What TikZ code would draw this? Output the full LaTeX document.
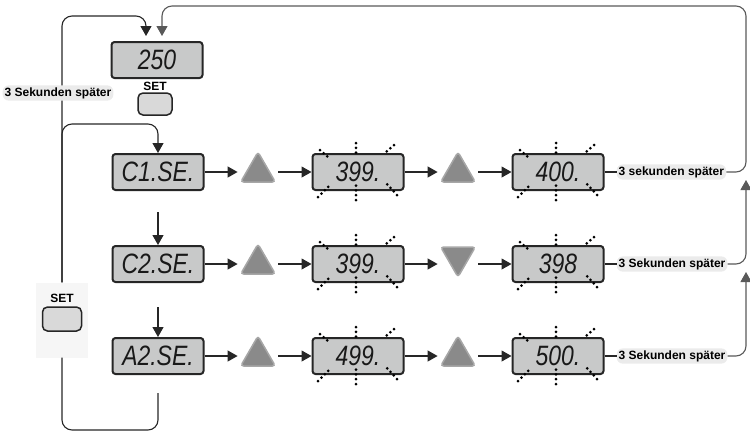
\documentclass[tikz,border=0pt]{standalone}
\usepackage{fontspec}
\setmainfont{Liberation Sans}
\newfontfamily\lcdfamily[FakeStretch=0.82]{Liberation Sans}
\usetikzlibrary{shapes.geometric,arrows.meta,positioning}

\definecolor{lcdgrey}{HTML}{C8C9C9}
\definecolor{keygrey}{HTML}{8A8A8A}
\definecolor{tagbg}{HTML}{EBEBEB}
\definecolor{padbg}{HTML}{F6F6F6}

\newcommand{\lcd}{\lcdfamily\itshape\fontsize{28}{28}\selectfont}
\newcommand{\tagfont}{\bfseries\fontsize{12}{14}\selectfont}

\tikzstyle{display}=[draw=black!85, fill=lcdgrey, line width=2pt, rounded corners=3pt, minimum width=91pt, minimum height=36pt, inner sep=0pt, font=\lcd, text=black!90]
\tikzstyle{key}=[regular polygon, regular polygon sides=3, fill=keygrey, draw=keygrey!75!white, line width=1.5pt, rounded corners=3pt, minimum size=40pt, inner sep=0pt]
\tikzstyle{button}=[draw=black!85, fill=black!15, line width=1.5pt, rounded corners=5pt, minimum width=36pt, minimum height=22pt]
\tikzstyle{tag}=[fill=tagbg, rounded corners=6pt, inner sep=2pt, font=\tagfont]
\tikzstyle{wire}=[draw=black!85, line width=1.1pt]
\tikzstyle{loopwire}=[draw=black!65, line width=1.1pt]
\tikzstyle{blinkdots}=[black, line width=3pt, line cap=round, dash pattern=on 0pt off 4.8pt]

% flashing marks round a display
\newcommand{\blink}[1]{%
  \draw[blinkdots] ([shift={(-38,-22)}]#1.center) -- ++(9,8);
  \draw[blinkdots] ([shift={(36,-27)}]#1.center) -- ++(-9,8);
  \draw[blinkdots] ([shift={(-40,25)}]#1.center) -- ++(12,-12);
  \draw[blinkdots] ([shift={(39,23)}]#1.center) -- ++(-12,-13);
  \draw[blinkdots] ([shift={(-2,-29)}]#1.center) -- ++(0,14);
  \draw[blinkdots] ([shift={(-2,28)}]#1.center) -- ++(0,-18);
}

\begin{document}
\begin{tikzpicture}[x=1pt, y=-1pt, node distance=100pt, auto, >={Triangle[length=10pt,width=11pt]}]
  \useasboundingbox (0,0) rectangle (750,432);

  % start display and its key
  \node (disp0) [display] at (157,60) {250};
  \node (btnA) [button, minimum width=34pt] at (155,104) {};
  \node (setA) [font=\tagfont, node distance=18pt, above of=btnA] {SET};

  % rows
  \node (r1d1) [display] at (158,172) {C1.SE.};
  \node (r1t1) [key, right of=r1d1] {};
  \node (r1d2) [display, right of=r1t1] {399.};
  \node (r1t2) [key, right of=r1d2] {};
  \node (r1d3) [display, right of=r1t2] {400.};
  \node (r1lbl) [tag, right=12pt of r1d3] {3 sekunden später};

  \node (r2d1) [display, node distance=92pt, below of=r1d1] {C2.SE.};
  \node (r2t1) [key, right of=r2d1] {};
  \node (r2d2) [display, right of=r2t1] {399.};
  \node (r2t2) [key, shape border rotate=180, right of=r2d2, yshift=7pt] {};
  \node (r2d3) [display, node distance=200pt, right of=r2d2] {398};
  \node (r2lbl) [tag, right=12pt of r2d3] {3 Sekunden später};

  \node (r3d1) [display, node distance=92pt, below of=r2d1] {A2.SE.};
  \node (r3t1) [key, right of=r3d1] {};
  \node (r3d2) [display, right of=r3t1] {499.};
  \node (r3t2) [key, right of=r3d2] {};
  \node (r3d3) [display, right of=r3t2] {500.};
  \node (r3lbl) [tag, right=12pt of r3d3] {3 Sekunden später};

  \blink{r1d2} \blink{r1d3}
  \blink{r2d2} \blink{r2d3}
  \blink{r3d2} \blink{r3d3}

  % left SET key
  \node (setB) [fill=padbg, minimum width=52pt, minimum height=75pt] at (62,320) {};
  \node (btnB) [button, minimum width=39pt, minimum height=24pt] at (62,319) {};
  \node (setTB) [font=\tagfont, node distance=21pt, above of=btnB] {SET};

  \coordinate (tl) at (62,16);
  \coordinate (tr) at (746,6);
  \coordinate (c1) at (100,124);
  \coordinate (bl) at (100,430);
  \coordinate (j1) at (746,180);
  \coordinate (j2) at (746,272);

  % horizontal flow
  \foreach \r in {1,2,3} {
    \draw [wire, ->, shorten >=8pt] (r\r d1.east) -- (r\r d1.east -| r\r t1.west);
    \draw [wire, ->, shorten <=8pt] (r\r d2.west -| r\r t1.east) -- (r\r d2.west);
    \draw [wire, ->, shorten >=8pt] (r\r d2.east) -- (r\r d2.east -| r\r t2.west);
    \draw [wire, ->, shorten <=8pt] (r\r d3.west -| r\r t2.east) -- (r\r d3.west);
    \draw [wire] (r\r d3) -- (r\r lbl);
  }

  % SET column
  \draw [wire, ->, shorten <=21pt] (r1d1) -- (r2d1);
  \draw [wire, ->, shorten <=24pt] (r2d1) -- (r3d1);
  \draw [wire, rounded corners=10pt, shorten <=18pt] (r3d1.south) |- (bl) -| (setB.south);
  \draw [wire, ->, rounded corners=10pt] (setB.north) |- (c1) -| (r1d1.north);
  \draw [wire, ->, rounded corners=10pt, shorten >=5pt] (setB.north) -- (tl) -| ([xshift=-11pt]disp0.north);

  % back to start
  \draw [loopwire, ->, rounded corners=10pt, shorten >=5pt] (r1lbl.east) -| (tr) -| ([xshift=5pt]disp0.north);
  \draw [loopwire, ->, rounded corners=10pt] (r2lbl.east) -| (j1);
  \draw [loopwire, ->, rounded corners=10pt] (r3lbl.east) -| (j2);

  \node (labL) [tag] at (58,93) {3 Sekunden später};
\end{tikzpicture}
\end{document}
